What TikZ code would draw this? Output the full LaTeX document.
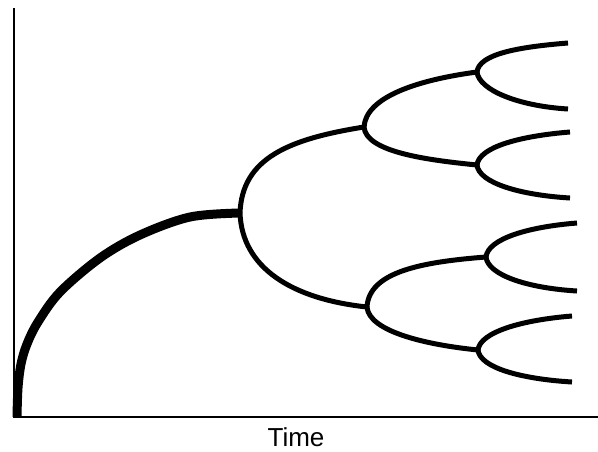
\documentclass[tikz,border=0pt]{standalone}
\usepackage{fontspec}
\setmainfont{Liberation Sans}
\begin{document}
\begin{tikzpicture}[x=1pt,y=-1pt,
  axis/.style={line width=2pt},
  trunk/.style={line width=9pt,line join=round},
  branch/.style={line width=5pt,line join=round}]
\useasboundingbox (0,0) rectangle (598,451);
% axes
\coordinate (top) at (14,8);
\coordinate (origin) at (14,417);
\coordinate (right) at (598,417);
\draw[axis] (top) -- (origin) -- (right);
\node[font=\fontsize{26}{28}\selectfont,inner sep=0pt,anchor=base] (time) at (296,446) {Time};
% junctions
\coordinate (start) at (17,417);
\coordinate (root) at (240,213);
\coordinate (A) at (364,127);
\coordinate (B) at (367,307);
\coordinate (A1) at (477,72);
\coordinate (A2) at (477,165);
\coordinate (B1) at (486,257);
\coordinate (B2) at (478,350);
% tips
\coordinate (t1) at (568,43);
\coordinate (t2) at (568,109);
\coordinate (t3) at (570,132);
\coordinate (t4) at (570,198);
\coordinate (t5) at (577,223);
\coordinate (t6) at (577,291);
\coordinate (t7) at (572,316);
\coordinate (t8) at (572,382);
% trunk
\draw[trunk] plot[smooth,tension=0.55] coordinates {(17,417) (18,388) (21,364) (27,344) (38,322) (60,292) (100,258) (140,235) (190,217) (240,213)};
% branches
\draw[branch] (root) .. controls +(2,-55) and +(-75,12) .. (A);
\draw[branch] (root) .. controls +(2,55) and +(-75,-8) .. (B);
\draw[branch] (A) .. controls +(2,-30) and +(-60,8) .. (A1);
\draw[branch] (A) .. controls +(2,25) and +(-50,-5) .. (A2);
\draw[branch] (B) .. controls +(2,-35) and +(-65,5) .. (B1);
\draw[branch] (B) .. controls +(2,25) and +(-50,-5) .. (B2);
\draw[branch] (A1) .. controls +(2,-18) and +(-50,4) .. (t1);
\draw[branch] (A1) .. controls +(2,18) and +(-50,-3) .. (t2);
\draw[branch] (A2) .. controls +(2,-18) and +(-50,4) .. (t3);
\draw[branch] (A2) .. controls +(2,18) and +(-50,-3) .. (t4);
\draw[branch] (B1) .. controls +(2,-18) and +(-50,4) .. (t5);
\draw[branch] (B1) .. controls +(2,18) and +(-50,-3) .. (t6);
\draw[branch] (B2) .. controls +(2,-18) and +(-50,4) .. (t7);
\draw[branch] (B2) .. controls +(2,18) and +(-50,-3) .. (t8);
\end{tikzpicture}
\end{document}
